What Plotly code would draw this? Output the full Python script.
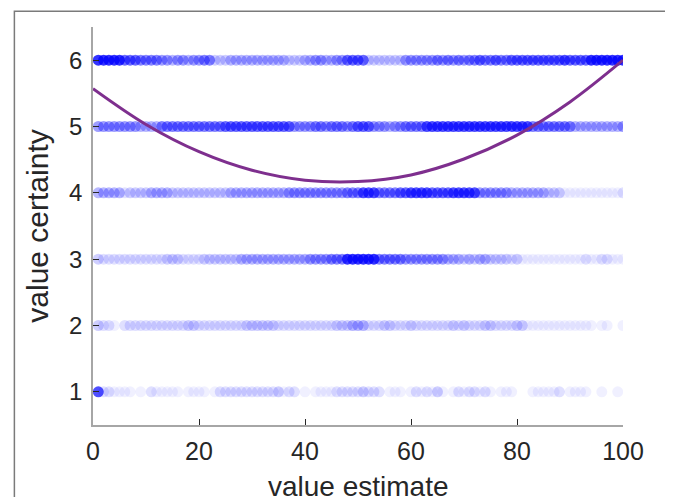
import plotly.graph_objects as go

# ---- data ----
x_values = list(range(1, 101))
certainty_levels = [6, 5, 4, 3, 2, 1]
# density level (0-9) of points at each x (1..100) for each certainty row
density_rows = {
    6: "99999" "777" "6666" "55455455" "66" "333" "44444444444" "333" "44554455" "7777" "3333333" "5555" "55656565" "66766766" "7777777" "77787777" "9999999",
    5: "55555555" "4444" "666666666666" "7777777777777" "5555" "66566656" "777" "555455" "6666" "88888888888888888888" "66666666" "444444444" "5",
    4: "44444" "2" "3333" "4444" "33333333333" "44444444444" "55555555" "555666" "888" "6666" "77888877" "77" "88888" "555555" "4444444" "333" "11111111111" "2",
    3: "3" "222222222222" "333" "2222" "3333333" "44444444444445555" "666" "999999" "666665555" "5555" "4443434433" "3323" "111111111111" "2" "11" "22" "111",
    2: "3" "22" "10" "222222222222" "33" "222222222" "333333" "222" "22222222" "333" "444" "222" "33" "222322" "2222" "2323222" "33" "2222" "33" "1111111111111011001",
    1: "8" "22" "11" "11" "010" "2" "1" "1111" "0" "111" "101" "2" "22222" "2222" "2" "3" "1" "22" "010" "1111" "22222" "3" "222" "0" "111" "0" "1212" "1" "3" "10" "1212" "2121" "0" "111" "000" "1" "1111" "20" "1111" "00" "1" "00" "1" "0",
}
# fitted curve, read at x = 0, 10, ..., 100
curve_x = [0, 10, 20, 30, 40, 50, 60, 70, 80, 90, 100]
curve_y = [5.57, 5.03, 4.62, 4.34, 4.19, 4.17, 4.27, 4.51, 4.87, 5.37, 6.0]

x_ticks = [0, 20, 40, 60, 80, 100]
y_ticks = [1, 2, 3, 4, 5, 6]
x_title = "value estimate"
y_title = "value certainty"

# ---- styling ----
alpha_map = [0, 0.06, 0.12, 0.19, 0.28, 0.38, 0.48, 0.58, 0.69, 0.8]

fig = go.Figure()
for lvl in certainty_levels:
    dens = density_rows[lvl]
    xs, ys, ops = [], [], []
    for xv, d in zip(x_values, dens):
        d = int(d)
        if d == 0:
            continue
        xs.append(xv)
        ys.append(lvl)
        ops.append(alpha_map[d])
    fig.add_trace(go.Scatter(
        x=xs, y=ys, mode="markers",
        marker=dict(color="rgb(0,0,255)", size=11, opacity=ops, line=dict(width=0)),
        showlegend=False, hoverinfo="skip"))

fig.add_trace(go.Scatter(
    x=curve_x, y=curve_y, mode="lines",
    line=dict(color="#7E2F8E", width=3, shape="spline"),
    showlegend=False))

OFF = 8  # page body margin
W, H = 673 - OFF, 497 - OFF
L, R, T, B = 92.7 - OFF, 623.3 - OFF, 26.8 - OFF, 425.2 - OFF

def px_to_paper_x(p):
    return (p - OFF - L) / (R - L)

def px_to_paper_y(p):
    return (B - (p - OFF)) / (B - T)

fig.add_shape(type="rect", xref="paper", yref="paper",
              x0=px_to_paper_x(14), x1=px_to_paper_x(670.5),
              y0=px_to_paper_y(530), y1=px_to_paper_y(11),
              line=dict(color="#7a7a7a", width=1.5), layer="below")

font_fam = "Liberation Sans, Arial, Helvetica, sans-serif"
fig.add_annotation(text=x_title, xref="paper", yref="paper",
                   x=0.5, y=px_to_paper_y(469), xanchor="center", yanchor="top",
                   showarrow=False, font=dict(size=28, color="#262626", family=font_fam))

fig.update_layout(
    width=W, height=H,
    margin=dict(l=L, r=W - R, t=T, b=H - B, pad=0, autoexpand=False),
    paper_bgcolor="white", plot_bgcolor="white",
    font=dict(family=font_fam, color="#262626"),
    xaxis=dict(range=[0, 100], tickvals=x_ticks, ticks="inside", ticklen=6,
               tickcolor="#262626", tickwidth=1, showgrid=False, zeroline=False,
               showline=True, linecolor="#a6a6a6", linewidth=1.5, automargin=False,
               tickfont=dict(size=25, color="#262626"), ticklabelstandoff=3),
    yaxis=dict(range=[0.5, 6.5], tickvals=y_ticks, ticks="inside", ticklen=6,
               tickcolor="#262626", tickwidth=1, showgrid=False, zeroline=False,
               showline=True, linecolor="#a6a6a6", linewidth=1.5, automargin=False,
               tickfont=dict(size=24, color="#262626"), ticklabelstandoff=4,
               title=dict(text=y_title, font=dict(size=30, color="#262626"), standoff=12)),
)

fig.write_html("out.html")
